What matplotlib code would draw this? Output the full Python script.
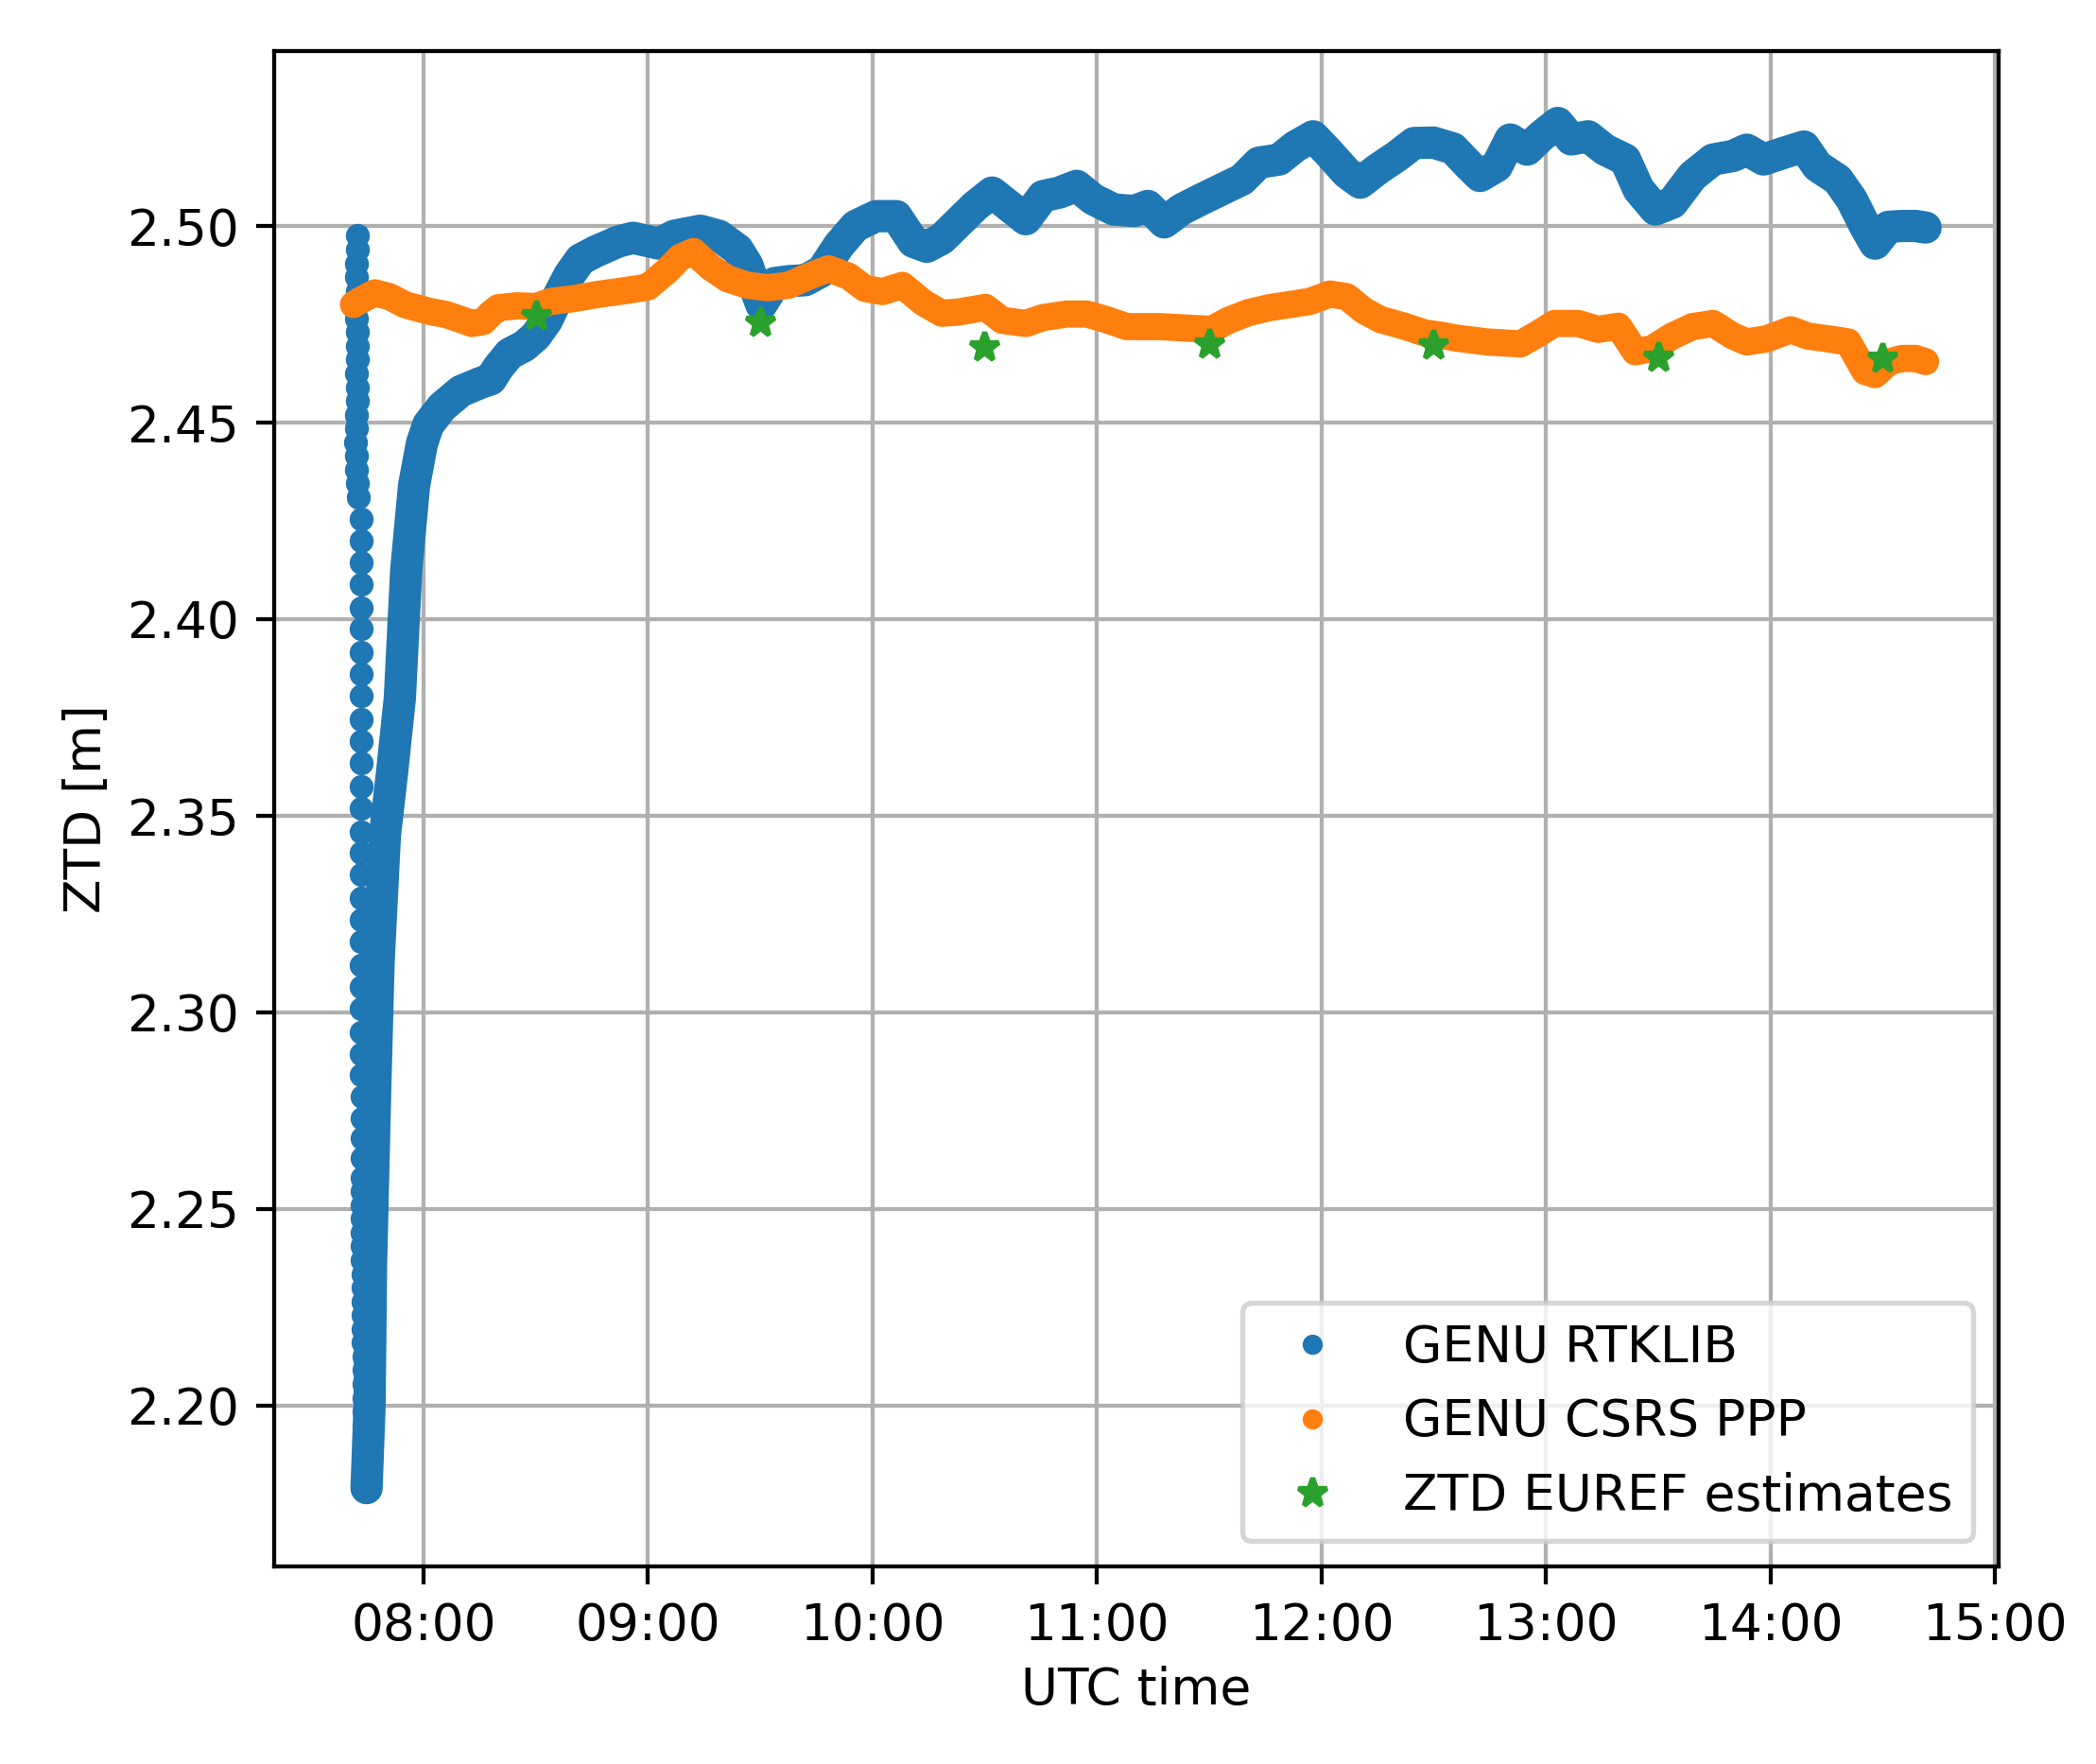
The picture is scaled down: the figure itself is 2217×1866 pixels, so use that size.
import matplotlib
matplotlib.use("Agg")
from matplotlib import pyplot as plt
from matplotlib.ticker import MultipleLocator, FuncFormatter, FormatStrFormatter

# times are minutes after 00:00 UTC, ZTD in metres

# RTKLIB start-up epochs (filter still converging)
rtk_start_min = [
    462.3, 462.3, 462.2, 462.2, 462.3, 462.3, 462.2, 462.3, 462.4, 462.3,
    462.2, 462.3, 462.3, 462.2, 462.0, 461.9, 462.0, 462.2, 462.4, 462.6,
    463.3, 463.3, 463.3, 463.4, 463.3, 463.3, 463.4, 463.3, 463.3, 463.4,
    463.3, 463.3, 463.4, 463.3, 463.3, 463.4, 463.3, 463.3, 463.4, 463.3,
    463.3, 463.4, 463.3, 463.4, 463.4, 463.4, 463.5, 463.5, 463.5, 463.5,
    463.5, 463.6, 463.6, 463.6, 463.7, 463.7, 463.7, 463.8, 463.8, 463.8,
    463.9, 463.9, 463.9, 464.0, 464.0, 464.0, 464.1, 464.1, 464.2, 464.2,
    464.3, 464.3, 464.4, 464.5,
]
rtk_start_ztd = [
    2.4975, 2.4940, 2.4905, 2.4870, 2.4835, 2.4800, 2.4765, 2.4730, 2.4695, 2.4660,
    2.4625, 2.4590, 2.4555, 2.4520, 2.4485, 2.4450, 2.4415, 2.4380, 2.4345, 2.4310,
    2.4255, 2.4200, 2.4145, 2.4090, 2.4030, 2.3975, 2.3915, 2.3860, 2.3805, 2.3745,
    2.3690, 2.3635, 2.3575, 2.3520, 2.3460, 2.3405, 2.3350, 2.3290, 2.3235, 2.3180,
    2.3120, 2.3065, 2.3010, 2.2950, 2.2895, 2.2840, 2.2785, 2.2730, 2.2680, 2.2630,
    2.2580, 2.2545, 2.2510, 2.2475, 2.2440, 2.2405, 2.2370, 2.2335, 2.2300, 2.2265,
    2.2230, 2.2195, 2.2160, 2.2125, 2.2090, 2.2055, 2.2020, 2.1985, 2.1950, 2.1915,
    2.1880, 2.1845, 2.1810, 2.1785,
]

# RTKLIB solution after the minimum
rtk_min = [
    464.8, 465.6, 466.0, 467.1, 468.0, 469.7, 471.5, 473.7, 475.4, 477.5,
    479.6, 481.3, 485.0, 490.0, 495.0, 498.0, 500.0, 503.0, 507.0, 510.0,
    513.0, 516.0, 519.0, 522.0, 526.0, 532.0, 536.0, 543.0, 547.0, 554.0,
    559.0, 564.0, 566.6, 568.4, 570.3, 573.9, 578.0, 582.0, 586.5, 591.0,
    595.5, 601.0, 606.4, 610.9, 614.5, 618.5, 623.0, 627.5, 632.0, 636.5,
    641.0, 645.6, 650.0, 654.6, 659.0, 664.5, 670.0, 673.6, 678.0, 682.6,
    688.0, 693.4, 698.8, 703.3, 708.7, 713.0, 717.8, 722.0, 726.8, 730.4,
    735.0, 740.3, 744.8, 750.0, 755.2, 759.7, 762.4, 766.9, 770.5, 775.0,
    778.7, 783.2, 786.8, 791.3, 795.8, 801.2, 804.8, 809.3, 813.8, 819.2,
    824.7, 830.0, 833.7, 838.2, 843.6, 849.0, 852.6, 858.0, 861.7, 865.3,
    868.0, 871.6, 875.2, 878.8, 881.5,
]
rtk_ztd = [
    2.1790, 2.2000, 2.2360, 2.2800, 2.3125, 2.3450, 2.3600, 2.3800, 2.4125, 2.4340,
    2.4447, 2.4495, 2.4540, 2.4580, 2.4600, 2.4610, 2.4640, 2.4675, 2.4695, 2.4720,
    2.4760, 2.4820, 2.4875, 2.4915, 2.4935, 2.4960, 2.4970, 2.4955, 2.4975, 2.4988,
    2.4975, 2.4940, 2.4900, 2.4850, 2.4800, 2.4855, 2.4860, 2.4862, 2.4885, 2.4950,
    2.5000, 2.5025, 2.5025, 2.4960, 2.4947, 2.4967, 2.5009, 2.5051, 2.5085, 2.5051,
    2.5017, 2.5076, 2.5085, 2.5102, 2.5068, 2.5042, 2.5038, 2.5051, 2.5009, 2.5042,
    2.5068, 2.5093, 2.5118, 2.5161, 2.5169, 2.5202, 2.5228, 2.5186, 2.5135, 2.5110,
    2.5144, 2.5178, 2.5211, 2.5212, 2.5197, 2.5152, 2.5127, 2.5152, 2.5220, 2.5194,
    2.5228, 2.5262, 2.5220, 2.5228, 2.5194, 2.5169, 2.5093, 2.5042, 2.5059, 2.5127,
    2.5169, 2.5178, 2.5194, 2.5169, 2.5186, 2.5202, 2.5152, 2.5118, 2.5068, 2.5000,
    2.4955, 2.4998, 2.5000, 2.5000, 2.4996,
]

# CSRS PPP solution
ppp_min = [
    461.3, 463.0, 467.0, 471.0, 475.0, 478.0, 482.0, 486.0, 490.0, 493.0,
    496.0, 498.0, 500.0, 505.0, 510.0, 514.0, 520.0, 526.0, 532.0, 537.0,
    540.0, 545.0, 548.6, 552.2, 556.7, 561.2, 566.6, 572.0, 577.5, 583.0,
    588.3, 593.7, 598.0, 602.7, 608.0, 613.6, 618.5, 623.0, 630.2, 634.7,
    641.0, 645.6, 651.9, 657.3, 661.8, 668.0, 677.0, 684.4, 690.7, 695.2,
    700.6, 706.0, 711.5, 716.9, 722.3, 726.8, 731.3, 735.8, 742.2, 747.6,
    752.0, 756.0, 764.2, 773.2, 777.8, 782.3, 788.6, 794.0, 799.4, 803.9,
    808.4, 813.8, 819.2, 824.7, 830.0, 833.7, 839.0, 845.5, 850.0, 855.4,
    860.8, 865.3, 868.0, 871.6, 875.2, 878.8, 881.5,
]
ppp_ztd = [
    2.4800, 2.4810, 2.4830, 2.4820, 2.4800, 2.4792, 2.4782, 2.4775, 2.4762, 2.4752,
    2.4757, 2.4777, 2.4792, 2.4797, 2.4795, 2.4808, 2.4815, 2.4825, 2.4833, 2.4840,
    2.4845, 2.4885, 2.4920, 2.4935, 2.4895, 2.4866, 2.4849, 2.4843, 2.4849, 2.4872,
    2.4891, 2.4872, 2.4841, 2.4833, 2.4849, 2.4805, 2.4778, 2.4781, 2.4793, 2.4760,
    2.4752, 2.4767, 2.4776, 2.4776, 2.4764, 2.4744, 2.4744, 2.4740, 2.4737, 2.4760,
    2.4780, 2.4792, 2.4800, 2.4808, 2.4827, 2.4820, 2.4785, 2.4762, 2.4745, 2.4728,
    2.4722, 2.4715, 2.4705, 2.4700, 2.4725, 2.4752, 2.4752, 2.4737, 2.4745, 2.4680,
    2.4688, 2.4720, 2.4744, 2.4752, 2.4720, 2.4705, 2.4713, 2.4736, 2.4720, 2.4713,
    2.4705, 2.4630, 2.4622, 2.4654, 2.4663, 2.4663, 2.4655,
]

# EUREF hourly estimates
euref_min = [510, 570, 630, 690, 750, 810, 870]
euref_ztd = [2.4771, 2.4756, 2.4693, 2.4699, 2.4696, 2.4665, 2.4664]


def hhmm(v, pos):
    v = int(round(v))
    return "%02d:%02d" % (v // 60, v % 60)


def main():
    dpi = 384
    fig = plt.figure(figsize=(2217 / dpi, 1866 / dpi), dpi=dpi)
    ax = fig.add_axes([0.1308, 0.1120, 0.8227, 0.8591])

    # dense epochs are drawn as a thick band with the epoch dots on top
    ax.plot(rtk_min, rtk_ztd, "-", color="C0", lw=6.4,
            solid_joinstyle="round", solid_capstyle="round")
    ax.plot(rtk_start_min, rtk_start_ztd, ".", color="C0", ms=7.5)
    ax.plot(rtk_min, rtk_ztd, ".", color="C0", label="GENU RTKLIB")

    ax.plot(ppp_min, ppp_ztd, "-", color="C1", lw=5.4,
            solid_joinstyle="round", solid_capstyle="round")
    ax.plot(ppp_min, ppp_ztd, ".", color="C1", label="GENU CSRS PPP")

    ax.plot(euref_min, euref_ztd, "*", color="C2", label="ZTD EUREF estimates")

    ax.set_xlim(440.1, 901.0)
    ax.set_ylim(2.1591, 2.5445)
    ax.xaxis.set_major_locator(MultipleLocator(60))
    ax.xaxis.set_major_formatter(FuncFormatter(hhmm))
    ax.yaxis.set_major_locator(MultipleLocator(0.05))
    ax.yaxis.set_major_formatter(FormatStrFormatter("%.2f"))
    ax.grid(True)

    ax.set_xlabel("UTC time", labelpad=3)
    ax.set_ylabel("ZTD [m]", labelpad=3)
    ax.legend(loc="lower right")

    fig.savefig("out.png", dpi=dpi)


if __name__ == "__main__":
    main()
